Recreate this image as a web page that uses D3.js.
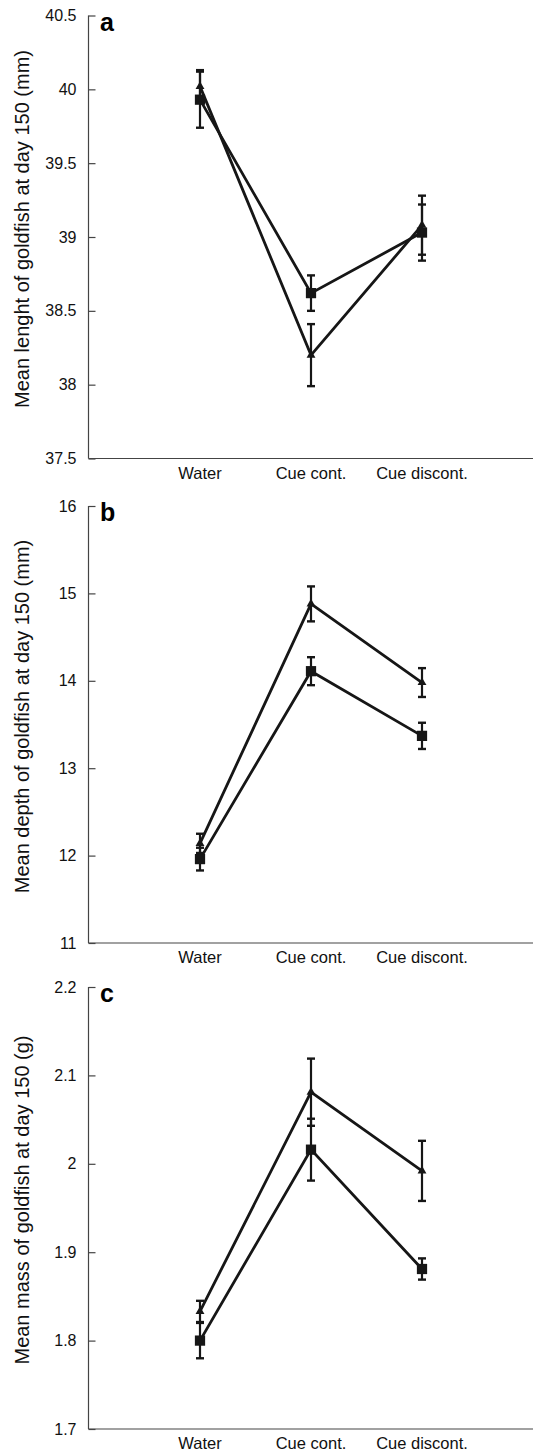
<!DOCTYPE html>
<html>
<head>
<meta charset="utf-8">
<script src="https://cdn.jsdelivr.net/npm/d3@7"></script>
<style>
  body { margin: 0; background: #fff; }
  svg { display: block; font-family: "Liberation Sans", Arial, sans-serif; }
</style>
</head>
<body>
<svg id="chart" width="534" height="1454"></svg>
<script>
const categories = ["Water", "Cue cont.", "Cue discont."];

// panel a: length (mm)
const lengthTri = [40.02, 38.20, 39.08];
const lengthTriErr = [0.11, 0.21, 0.20];
const lengthSq = [39.93, 38.62, 39.03];
const lengthSqErr = [0.19, 0.12, 0.19];
const lengthTicks = [37.5, 38, 38.5, 39, 39.5, 40, 40.5];

// panel b: depth (mm)
const depthTri = [12.14, 14.88, 13.98];
const depthTriErr = [0.11, 0.20, 0.165];
const depthSq = [11.96, 14.11, 13.37];
const depthSqErr = [0.13, 0.16, 0.15];
const depthTicks = [11, 12, 13, 14, 15, 16];

// panel c: mass (g)
const massTri = [1.833, 2.081, 1.992];
const massTriErr = [0.012, 0.038, 0.034];
const massSq = [1.800, 2.016, 1.881];
const massSqErr = [0.020, 0.035, 0.012];
const massTicks = [1.7, 1.8, 1.9, 2.0, 2.1, 2.2];

const panels = [
  { letter: "a", label: "Mean lenght of goldfish at day 150 (mm)", top: 15.5, bottom: 458.5,
    domain: [37.5, 40.5], ticks: lengthTicks, tri: lengthTri, triErr: lengthTriErr, sq: lengthSq, sqErr: lengthSqErr },
  { letter: "b", label: "Mean depth of goldfish at day 150 (mm)", top: 506, bottom: 943,
    domain: [11, 16], ticks: depthTicks, tri: depthTri, triErr: depthTriErr, sq: depthSq, sqErr: depthSqErr },
  { letter: "c", label: "Mean mass of goldfish at day 150 (g)", top: 987, bottom: 1429,
    domain: [1.7, 2.2], ticks: massTicks, tri: massTri, triErr: massTriErr, sq: massSq, sqErr: massSqErr }
];

const svg = d3.select("#chart");
const axisX = 88.5;
const rightEdge = 533;
const ink = "#161616";

const x = d3.scalePoint().domain(categories).range([200, 422]);

panels.forEach(p => {
  const g = svg.append("g");
  const y = d3.scaleLinear().domain(p.domain).range([p.bottom, p.top]);

  // y axis, ticks pointing inward
  g.append("g")
   .attr("transform", "translate(" + axisX + ",0)")
   .call(d3.axisLeft(y).tickValues(p.ticks).tickSize(-7).tickPadding(12)
         .tickFormat(d => String(+d.toFixed(2))))
   .call(a => a.select(".domain").attr("stroke", "#444").attr("stroke-width", 1.2).attr("d", "M0," + p.top + "V" + p.bottom))
   .call(a => a.selectAll(".tick line").attr("stroke", "#444").attr("stroke-width", 1.2))
   .call(a => a.selectAll(".tick text").attr("fill", "#111").style("font-size", "16px"));

  // x axis line + labels
  g.append("line")
   .attr("x1", axisX).attr("x2", rightEdge)
   .attr("y1", p.bottom).attr("y2", p.bottom)
   .attr("stroke", "#444").attr("stroke-width", 1.2);

  g.selectAll(".xlab")
   .data(categories)
   .enter()
   .append("text")
   .attr("x", d => x(d))
   .attr("y", p.bottom + 20)
   .attr("text-anchor", "middle")
   .style("font-size", "16.5px")
   .attr("fill", "#111")
   .text(d => d);

  g.append("text")
   .attr("transform", "translate(29," + ((p.top + p.bottom) / 2 - 8) + ") rotate(-90)")
   .attr("text-anchor", "middle")
   .style("font-size", "20px")
   .attr("fill", "#111")
   .text(p.label);

  g.append("text")
   .attr("x", 100)
   .attr("y", p.top + 15)
   .style("font-size", "25px")
   .style("font-weight", "bold")
   .attr("fill", "#000")
   .text(p.letter);

  const line = d3.line().x((d, i) => x(categories[i])).y(d => y(d));

  const series = [
    { vals: p.sq, err: p.sqErr, shape: d3.symbolSquare, size: 105 },
    { vals: p.tri, err: p.triErr, shape: d3.symbolTriangle, size: 34 }
  ];

  series.forEach(s => {
    const eb = g.append("g");
    eb.selectAll("line.v")
      .data(s.vals)
      .enter()
      .append("line")
      .attr("x1", (d, i) => x(categories[i]))
      .attr("x2", (d, i) => x(categories[i]))
      .attr("y1", (d, i) => y(d + s.err[i]))
      .attr("y2", (d, i) => y(d - s.err[i]))
      .attr("stroke", ink).attr("stroke-width", 2.2);
    [1, -1].forEach(sign => {
      eb.selectAll(null)
        .data(s.vals)
        .enter()
        .append("line")
        .attr("x1", (d, i) => x(categories[i]) - 4)
        .attr("x2", (d, i) => x(categories[i]) + 4)
        .attr("y1", (d, i) => y(d + sign * s.err[i]))
        .attr("y2", (d, i) => y(d + sign * s.err[i]))
        .attr("stroke", ink).attr("stroke-width", 2.4);
    });

    g.append("path")
     .datum(s.vals)
     .attr("d", line)
     .attr("fill", "none")
     .attr("stroke", ink)
     .attr("stroke-width", 2.8);

    g.selectAll(null)
     .data(s.vals)
     .enter()
     .append("path")
     .attr("d", d3.symbol().type(s.shape).size(s.size))
     .attr("transform", (d, i) => "translate(" + x(categories[i]) + "," + y(d) + ")")
     .attr("fill", ink);
  });
});
</script>
</body>
</html>
